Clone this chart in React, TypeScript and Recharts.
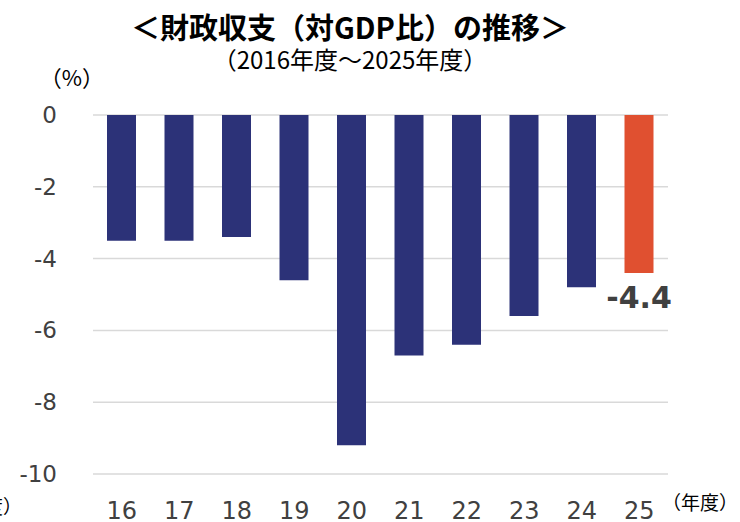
import React from "react";
import { BarChart, Bar, XAxis, YAxis, CartesianGrid, Cell, LabelList } from "recharts";

const years = ["16", "17", "18", "19", "20", "21", "22", "23", "24", "25"];
const balance = [-3.5, -3.5, -3.4, -4.6, -9.2, -6.7, -6.4, -5.6, -4.8, -4.4];
const yTicks = [0, -2, -4, -6, -8, -10];
const highlightYear = "25";

const data = years.map((y, i) => ({ year: y, value: balance[i] }));

const NAVY = "#2c3278";
const ORANGE = "#e05030";
const TICK = "#404040";
const JP = "'Noto Sans CJK JP', 'Noto Sans', sans-serif";
const LAT = "'DejaVu Sans', Verdana, sans-serif";

const XTick = (props: any) => {
  const { x, y, payload } = props;
  return (
    <text x={x} y={y} dy={45} textAnchor="middle" fontFamily={LAT} fontSize={24} fill={TICK}>
      {payload.value}
    </text>
  );
};

const YTick = (props: any) => {
  const { x, y, payload } = props;
  return (
    <text x={x} y={y} dy={8} textAnchor="end" fontFamily={LAT} fontSize={23} fill={TICK}>
      {payload.value}
    </text>
  );
};

const ValueLabel = (props: any) => {
  const { x, y, width, height, index } = props;
  if (data[index].year !== highlightYear) return null;
  const bottom = Math.max(Number(y), Number(y) + Number(height));
  return (
    <text
      x={Number(x) + Number(width) / 2}
      y={bottom}
      dy={35}
      textAnchor="middle"
      fontFamily={LAT}
      fontWeight="bold"
      fontSize={30}
      fill="#404040"
    >
      {data[index].value.toFixed(1)}
    </text>
  );
};

export default function App() {
  return (
    <div style={{ position: "absolute", left: 0, top: 0, width: 740, height: 522, background: "#fff" }}>
      <BarChart
        width={740}
        height={522}
        data={data}
        margin={{ top: 115, right: 72, bottom: 0, left: 0 }}
      >
        <CartesianGrid horizontal vertical={false} stroke="#d9d9d9" strokeWidth={1.5} />
        <XAxis
          dataKey="year"
          axisLine={false}
          tickLine={false}
          height={48}
          tickSize={0}
          tickMargin={0}
          tick={<XTick />}
          interval={0}
        />
        <YAxis
          type="number"
          domain={[-10, 0]}
          ticks={yTicks}
          axisLine={false}
          tickLine={false}
          width={93}
          tickSize={0}
          tickMargin={36}
          tick={<YTick />}
          interval={0}
        />
        <Bar dataKey="value" barSize={29} isAnimationActive={false}>
          {data.map((d) => (
            <Cell key={d.year} fill={d.year === highlightYear ? ORANGE : NAVY} />
          ))}
          <LabelList dataKey="value" content={<ValueLabel />} />
        </Bar>
        <text x={350} y={39} textAnchor="middle" fontFamily={JP} fontWeight="bold" fontSize={29} fill="#000">
          ＜財政収支（対GDP比）の推移＞
        </text>
        <text x={350} y={69} textAnchor="middle" fontFamily={JP} fontSize={24} fill="#000">
          （2016年度～2025年度）
        </text>
        <text x={72} y={86} textAnchor="middle" fontFamily={JP} fontSize={22} fill="#000">
          （%）
        </text>
        <text x={738} y={510} textAnchor="end" fontFamily={JP} fontSize={19} fill="#000">
          （年度）
        </text>
        <text x={22} y={514} textAnchor="end" fontFamily={JP} fontSize={19} fill="#000">
          （年度）
        </text>
      </BarChart>
    </div>
  );
}
